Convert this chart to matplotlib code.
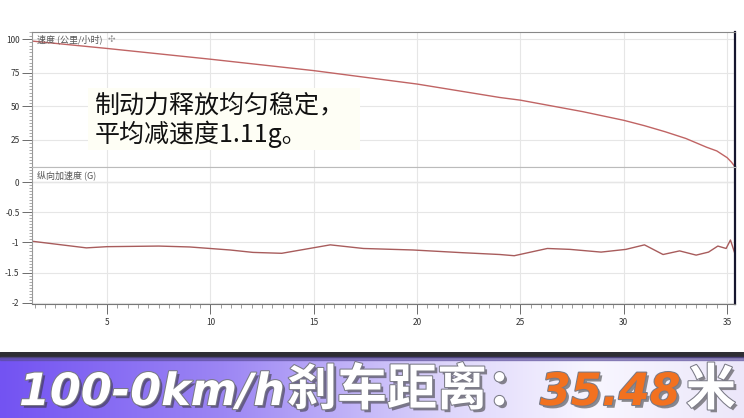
import numpy as np
import matplotlib
matplotlib.use('Agg')
import matplotlib.pyplot as plt
import matplotlib.patheffects as pe
from matplotlib.ticker import MultipleLocator
from matplotlib.colors import LinearSegmentedColormap
from matplotlib.patches import Rectangle

plt.rcParams['font.family'] = ['Noto Sans CJK SC', 'DejaVu Sans']

# speed trace (km/h) against distance (m)
dist_v = [1.37, 5, 10, 15, 20, 24, 25, 28, 30, 31, 32, 33, 34, 34.5, 35, 35.2, 35.38]
speed = [98.5, 93, 85, 76.5, 66.5, 56.5, 54.5, 46, 39.5, 35.5, 31, 26, 19.5, 16.7, 11.7, 8.5, 5]

# longitudinal acceleration (G) against distance (m)
dist_a = [1.37, 4.0, 5.0, 7.5, 9.0, 10.95, 12.06, 13.45, 15.8, 17.4, 19.8, 22.2, 24.0, 24.7,
          26.3, 27.4, 28.9, 30.1, 31.0, 31.9, 32.7, 33.5, 34.1, 34.55, 34.95, 35.16, 35.38]
accel = [-0.98, -1.09, -1.07, -1.06, -1.075, -1.125, -1.165, -1.18, -1.04, -1.10, -1.125, -1.17, -1.20, -1.22,
         -1.10, -1.115, -1.16, -1.115, -1.04, -1.20, -1.14, -1.21, -1.16, -1.06, -1.10, -0.96, -1.19]

x_ticks = [5, 10, 15, 20, 25, 30, 35]
v_ticks = [25, 50, 75, 100]
a_ticks = [0, -0.5, -1, -1.5, -2]
a_tick_labels = ['0', '-0.5', '-1', '-1.5', '-2']

speed_label = "速度 (公里/小时)"
accel_label = "纵向加速度 (G)"
note_lines = ["制动力释放均匀稳定，", "平均减速度1.11g。"]
# text, colour, left edge in px, latin font or not
banner_parts = [("100-0km/h", "white", 19, True), ("刹车距离：", "white", 287, False),
                ("35.48", "#f2711f", 540, True), ("米", "white", 686, False)]

W, H = 744, 418
fig = plt.figure(figsize=(W / 100, H / 100), dpi=100)
fig.patch.set_facecolor('white')

ax1 = fig.add_axes([32 / W, 1 - 167 / H, 703 / W, 135 / H])
ax2 = fig.add_axes([32 / W, 1 - 304 / H, 703 / W, 137 / H])

ax1.plot(dist_v, speed, color='#c06464', lw=1.0)
ax2.plot(dist_a, accel, color='#a85c5c', lw=1.0)

for ax in (ax1, ax2):
    ax.set_xlim(1.37, 35.38)
    ax.xaxis.set_major_locator(plt.FixedLocator(x_ticks))
    ax.xaxis.set_minor_locator(MultipleLocator(0.5))
    ax.grid(True, which='major', color='#e6e6e6', lw=0.8)
    ax.set_axisbelow(True)
    ax.spines['left'].set_color('#999999')
    ax.spines['right'].set_color('#15152e')
    ax.spines['right'].set_linewidth(1.6)
    ax.tick_params(axis='y', which='major', direction='out', length=7, width=0.6,
                   colors='#555555', labelsize=6, labelcolor='#333333', pad=2)
    ax.tick_params(axis='y', which='minor', direction='out', length=2.5, width=0.5, colors='#888888')

ax1.set_ylim(4.75, 105.25)
ax1.set_yticks(v_ticks)
ax1.yaxis.set_minor_locator(MultipleLocator(2.5))
ax1.tick_params(axis='x', which='both', length=0, labelbottom=False)
ax1.spines['top'].set_linestyle((0, (1, 1)))
ax1.spines['top'].set_color('#888888')
ax1.spines['bottom'].set_color('#bbbbbb')

ax2.set_ylim(-2.02, 0.25)
ax2.set_yticks(a_ticks)
ax2.set_yticklabels(a_tick_labels)
ax2.yaxis.set_minor_locator(MultipleLocator(0.05))
ax2.spines['top'].set_color('#bbbbbb')
ax2.spines['bottom'].set_color('#777777')
ax2.tick_params(axis='x', which='major', direction='out', length=7, width=0.6,
                colors='#555555', labelsize=6, labelcolor='#333333', pad=3)
ax2.tick_params(axis='x', which='minor', direction='out', length=3, width=0.5, colors='#777777')
ax2.axhline(0, color='#d6d6d6', lw=0.9, zorder=0)

ax1.text(5 / 703, 1 - 7 / 135, speed_label, transform=ax1.transAxes, fontsize=6.5,
         color='#555555', va='center', ha='left')
ax1.text(76 / 703, 1 - 7 / 135, "✣", transform=ax1.transAxes, fontsize=6.5,
         color='#999999', va='center', ha='left', family=['DejaVu Sans'])
ax2.text(5 / 703, 1 - 8 / 137, accel_label, transform=ax2.transAxes, fontsize=6.5,
         color='#555555', va='center', ha='left')

# faint highlight behind the comment
fig.patches.append(Rectangle((88 / W, 1 - 150 / H), 272 / W, 62 / H, transform=fig.transFigure,
                             facecolor='#fefef5', edgecolor='none', zorder=2))
for i, line in enumerate(note_lines):
    fig.text(95 / W, 1 - (105 + 29 * i) / H, line, fontsize=18, color='#111111',
             va='center', ha='left', zorder=3)

# banner at the bottom
ax3 = fig.add_axes([0, 0, 1, 66 / H])
cmap = LinearSegmentedColormap.from_list(
    'band', [(0, '#7353f2'), (0.3, '#9c86f4'), (0.6, '#ddd5fb'), (0.8, '#f8f6ff'), (1.0, '#ece7fa')])
ax3.imshow(np.linspace(0, 1, 256).reshape(1, -1), aspect='auto', cmap=cmap,
           extent=[0, 1, 0, 1])
ax3.axhspan(0.93, 1.0, color='#2e2e34')
ax3.axhspan(0.88, 0.93, color='#5a4c9a', alpha=0.6)
ax3.set_xlim(0, 1)
ax3.set_ylim(0, 1)
ax3.axis('off')

fx = [pe.SimplePatchShadow(offset=(2, -2), shadow_rgbFace='#333333', alpha=0.55),
      pe.Stroke(linewidth=1.5, foreground='#7a7a86'), pe.Normal()]
for txt, col, x0, latin in banner_parts:
    if latin:
        kw = dict(fontsize=32, fontweight='bold', style='italic', family=['DejaVu Sans'])
    else:
        kw = dict(fontsize=36, fontweight='heavy', family=['Noto Sans CJK SC'])
    fig.text(x0 / W, 1 - 405 / H, txt, color=col, va='baseline', ha='left',
             path_effects=fx, **kw)

fig.savefig('out.png', dpi=100)
